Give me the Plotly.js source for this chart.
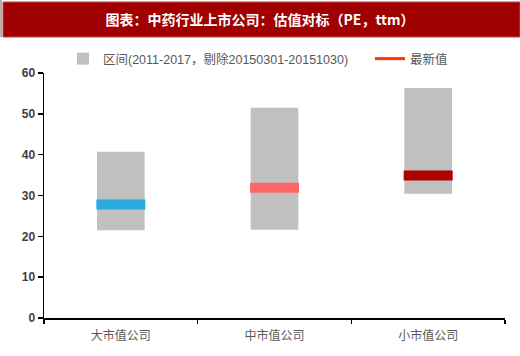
<!DOCTYPE html>
<html>
<head>
<meta charset="utf-8">
<script src="https://cdn.plot.ly/plotly-3.0.1.min.js"></script>
<style>html,body{margin:0;padding:0;background:#fff;}#chart{width:520px;height:356px;}</style>
</head>
<body>
<div id="chart"></div>
<script>
const categories = ['大市值公司', '中市值公司', '小市值公司'];
const rangeLow = [21.5, 21.6, 30.4];
const rangeHigh = [40.7, 51.5, 56.3];
const latest = [27.8, 31.9, 34.9];
const latestColors = ['#29ABE2', '#FF6666', '#B00000'];
const rangeName = '区间(2011-2017，剔除20150301-20151030)';
const latestName = '最新值';
const titleText = '图表：中药行业上市公司：估值对标（PE，ttm）';

const cjk = '"Noto Sans CJK SC", "Liberation Sans", sans-serif';
const legFont = {family: '"Liberation Sans", "Noto Sans CJK SC", sans-serif', size: 12.5, color: '#595959'};

const traces = [
  {
    type: 'bar',
    x: categories,
    base: rangeLow,
    y: rangeHigh.map((h, i) => h - rangeLow[i]),
    width: 0.31,
    marker: {color: '#C0C0C0'},
    name: rangeName,
    legend: 'legend',
    hoverinfo: 'skip'
  },
  {
    type: 'scatter',
    mode: 'markers',
    x: categories,
    y: latest,
    marker: {symbol: 'line-ew', size: 35, color: latestColors, line: {color: latestColors, width: 10}},
    showlegend: false,
    hoverinfo: 'skip'
  },
  {
    type: 'scatter',
    mode: 'lines',
    x: [null],
    y: [null],
    line: {color: '#FF3300', width: 3},
    name: latestName,
    legend: 'legend2'
  }
];

const layout = {
  width: 520,
  height: 356,
  margin: {l: 44, r: 15, t: 73, b: 38},
  paper_bgcolor: '#ffffff',
  plot_bgcolor: '#ffffff',
  showlegend: true,
  title: {
    text: titleText,
    font: {family: cjk, size: 14, color: '#ffffff', weight: 'bold'},
    x: 0.5, xanchor: 'center',
    y: 1 - 20 / 356, yanchor: 'middle'
  },
  legend: {
    orientation: 'h',
    x: (63 - 44) / 461, xanchor: 'left',
    y: (318 - 59) / 245, yanchor: 'middle',
    font: legFont,
    itemwidth: 30,
    bgcolor: 'rgba(0,0,0,0)'
  },
  legend2: {
    orientation: 'h',
    x: (370 - 44) / 461, xanchor: 'left',
    y: (318 - 59) / 245, yanchor: 'middle',
    font: legFont,
    itemwidth: 30,
    bgcolor: 'rgba(0,0,0,0)'
  },
  xaxis: {
    type: 'category',
    showline: true, linecolor: '#000', linewidth: 1.5,
    ticks: 'outside', tickson: 'boundaries', ticklen: 4, tickcolor: '#000', tickwidth: 1.5,
    showgrid: false, zeroline: false,
    ticklabelstandoff: 6,
    tickfont: {family: cjk, size: 12, color: '#595959'}
  },
  yaxis: {
    range: [0, 60],
    dtick: 10,
    showline: true, linecolor: '#000', linewidth: 1.5,
    ticks: 'outside', ticklen: 5, tickcolor: '#000', tickwidth: 1.5,
    showgrid: false, zeroline: false,
    tickfont: {family: '"Liberation Sans", Arial, sans-serif', size: 12, color: '#404040', weight: 'bold'}
  },
  shapes: [
    {type: 'rect', xref: 'paper', yref: 'paper', layer: 'below',
     x0: (3 - 44) / 461, x1: (520 - 44) / 461,
     y0: (318 - 37) / 245, y1: (318 - 2) / 245,
     fillcolor: '#A00000', line: {color: '#C04040', width: 1}},
    {type: 'line', xref: 'paper', yref: 'paper', layer: 'below',
     x0: (1 - 44) / 461, x1: (1 - 44) / 461,
     y0: (318 - 37) / 245, y1: (318 - 0) / 245,
     line: {color: '#B0B0B0', width: 2}}
  ]
};

Plotly.newPlot('chart', traces, layout, {displayModeBar: false, staticPlot: true});
</script>
</body>
</html>
